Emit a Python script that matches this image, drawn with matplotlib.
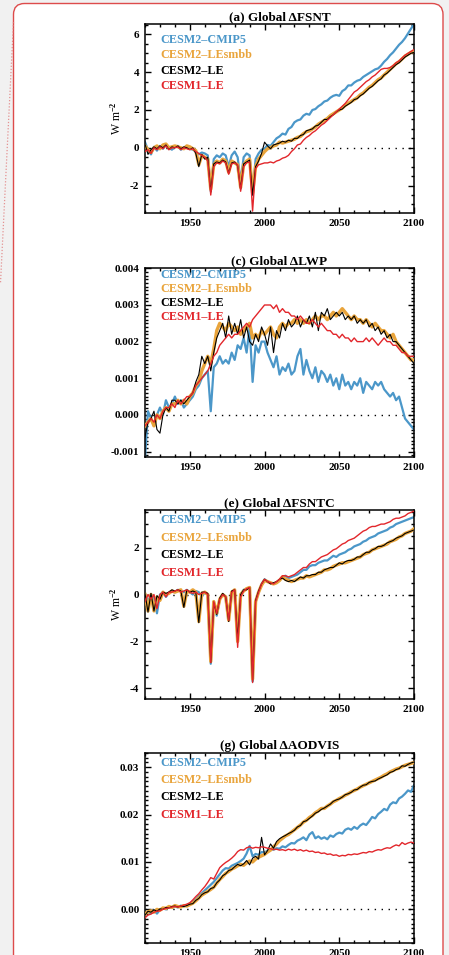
import numpy as np
import matplotlib
matplotlib.use("Agg")
import matplotlib.pyplot as plt
from matplotlib.patches import FancyBboxPatch
from matplotlib.lines import Line2D
from matplotlib.transforms import IdentityTransform
from matplotlib.ticker import MultipleLocator, FormatStrFormatter

plt.rcParams['font.family'] = ['Liberation Serif', 'DejaVu Serif']
plt.rcParams['font.weight'] = 'bold'
plt.rcParams['mathtext.fontset'] = 'custom'
plt.rcParams['mathtext.rm'] = 'Liberation Serif:bold'
plt.rcParams['mathtext.default'] = 'rm'

# annual-mean global anomalies, sampled every 2 years 1920-2100
years = np.arange(1920, 2101, 2)

models = ['CESM2\u2013CMIP5', 'CESM2\u2013LEsmbb', 'CESM2\u2013LE', 'CESM1\u2013LE']
colors = ['#4b97c9', '#e9a43b', '#000000', '#e2262b']

# (a) FSNT, W m-2
fsnt_cmip5 = [0.3, -0.1, -0.35, 0.05, -0.15, 0.1, -0.05, 0.15, 0.0, -0.1,
              0.05, 0.1, -0.1, 0.0, 0.1, -0.05, -0.1, -0.2, -0.35, -0.25,
              -0.3, -0.4, -2.3, -0.6, -0.4, -0.5, -0.3, -0.4, -1.0, -0.4,
              -0.2, -0.5, -1.8, -0.5, -0.3, -0.4, -2.5, -0.6, -0.3, -0.1,
              -0.05, 0.15, 0.1, 0.3, 0.5, 0.6, 0.75, 0.7, 1.0, 1.1,
              1.35, 1.45, 1.5, 1.7, 1.8, 1.75, 2.0, 2.05, 2.2, 2.3,
              2.45, 2.5, 2.65, 2.75, 2.8, 2.75, 3.0, 3.1, 3.3, 3.3,
              3.45, 3.55, 3.6, 3.75, 3.85, 3.95, 4.05, 4.15, 4.2, 4.35,
              4.55, 4.7, 4.9, 5.05, 5.25, 5.45, 5.6, 5.8, 6.05, 6.3,
              6.55]
fsnt_smbb = [0.1, -0.1, -0.25, 0.0, 0.1, -0.05, 0.15, 0.2, 0.0, 0.05,
             0.1, 0.05, 0.0, -0.05, 0.1, 0.05, -0.05, -0.15, -0.9, -0.4,
             -0.5, -0.6, -2.2, -0.9, -0.7, -0.8, -0.6, -0.7, -1.3, -0.7,
             -0.8, -0.9, -2.1, -0.9, -0.7, -0.6, -2.4, -1.0, -0.6, -0.4,
             -0.2, -0.05, 0.0, 0.1, 0.15, 0.3, 0.25, 0.3, 0.35, 0.4,
             0.45, 0.55, 0.6, 0.75, 0.85, 0.9, 1.0, 1.1, 1.25, 1.35,
             1.45, 1.55, 1.7, 1.8, 1.9, 2.0, 2.1, 2.25, 2.35, 2.45,
             2.55, 2.65, 2.8, 2.9, 3.05, 3.2, 3.3, 3.45, 3.6, 3.7,
             3.85, 4.0, 4.15, 4.3, 4.45, 4.55, 4.7, 4.85, 4.95, 5.05,
             5.1]
fsnt_le2 = [0.2, -0.35, -0.1, 0.05, -0.05, 0.1, 0.0, 0.15, -0.1, 0.05,
            0.0, 0.1, -0.05, 0.05, 0.0, -0.1, 0.0, -0.3, -1.0, -0.35,
            -0.6, -0.5, -2.35, -0.85, -0.75, -0.8, -0.65, -0.75, -1.35, -0.8,
            -0.75, -0.95, -2.2, -0.85, -0.75, -0.65, -2.5, -1.0, -0.7, -0.3,
            0.3, 0.1, -0.05, 0.15, 0.2, 0.25, 0.35, 0.3, 0.4, 0.35,
            0.5, 0.5, 0.65, 0.7, 0.9, 0.95, 1.0, 1.15, 1.2, 1.35,
            1.5, 1.5, 1.65, 1.75, 1.9, 2.0, 2.05, 2.2, 2.3, 2.4,
            2.55, 2.6, 2.75, 2.85, 3.0, 3.15, 3.25, 3.4, 3.55, 3.65,
            3.85, 3.95, 4.1, 4.25, 4.4, 4.5, 4.65, 4.8, 4.9, 5.0,
            5.05]
fsnt_le1 = [-0.2, -0.1, -0.3, 0.0, -0.1, 0.05, -0.05, 0.1, -0.1, 0.0,
            0.0, 0.05, -0.1, 0.0, -0.05, -0.1, -0.05, -0.2, -0.3, -0.4,
            -0.5, -0.7, -2.5, -1.0, -0.8, -0.85, -0.7, -0.8, -1.4, -0.85,
            -0.8, -0.9, -2.3, -1.0, -0.8, -0.75, -3.35, -1.1, -0.9, -0.85,
            -0.8, -0.8, -0.75, -0.8, -0.7, -0.65, -0.55, -0.5, -0.4, -0.2,
            -0.05, 0.15, 0.2, 0.4, 0.55, 0.65, 0.8, 0.9, 1.05, 1.2,
            1.3, 1.45, 1.6, 1.75, 1.9, 2.05, 2.2, 2.35, 2.55, 2.75,
            2.95, 3.05, 3.2, 3.35, 3.5, 3.6, 3.75, 3.85, 4.0, 4.15,
            4.2, 4.2, 4.25, 4.35, 4.5, 4.6, 4.75, 4.9, 5.0, 5.1,
            5.2]

# (c) LWP
lwp_cmip5 = [-0.0012, 0.0001, -0.0001, -0.0003, 0.0000, 0.0002, 0.0000, 0.0004, 0.0002, 0.0003,
             0.0005, 0.0003, 0.0004, 0.0002, 0.0003, 0.0004, 0.0005, 0.0007, 0.0008, 0.0010,
             0.0011, 0.0012, 0.0001, 0.0013, 0.0014, 0.0016, 0.0014, 0.0015, 0.0014, 0.0017,
             0.0015, 0.0019, 0.0018, 0.0021, 0.0017, 0.0024, 0.0009, 0.0019, 0.0017, 0.0020,
             0.0020, 0.0017, 0.0015, 0.0013, 0.0016, 0.0011, 0.0013, 0.0012, 0.0014, 0.0011,
             0.0012, 0.0016, 0.0018, 0.0011, 0.0015, 0.0012, 0.0010, 0.0013, 0.0009, 0.0012,
             0.0011, 0.0009, 0.0011, 0.0008, 0.0010, 0.0007, 0.0011, 0.0008, 0.0009, 0.0007,
             0.0009, 0.0008, 0.0010, 0.0006, 0.0009, 0.0008, 0.0007, 0.0009, 0.0008, 0.0009,
             0.0007, 0.0006, 0.0005, 0.0006, 0.0004, 0.0005, 0.0002, -0.0001, -0.0002, -0.0003,
             -0.0004]
lwp_smbb = [-0.0003, -0.0002, -0.0001, -0.0003, 0.0000, -0.0001, 0.0001, 0.0002, 0.0001, 0.0003,
            0.0003, 0.0004, 0.0003, 0.0004, 0.0003, 0.0005, 0.0006, 0.0008, 0.0009, 0.0012,
            0.0014, 0.0016, 0.0014, 0.0018, 0.0023, 0.0025, 0.0024, 0.0023, 0.0025, 0.0024,
            0.0023, 0.0024, 0.0022, 0.0023, 0.0024, 0.0025, 0.0021, 0.0022, 0.0021, 0.0023,
            0.0022, 0.0023, 0.0024, 0.0022, 0.0021, 0.0024, 0.0025, 0.0024, 0.0025, 0.0025,
            0.0026, 0.0025, 0.0026, 0.0025, 0.0026, 0.0025, 0.0026, 0.0027, 0.0026, 0.0027,
            0.0027, 0.0026, 0.0027, 0.0028, 0.0027, 0.0028, 0.0029, 0.0028, 0.0027, 0.0026,
            0.0027, 0.0026, 0.0026, 0.0025, 0.0026, 0.0025, 0.0024, 0.0025, 0.0024, 0.0023,
            0.0023, 0.0022, 0.0021, 0.0022, 0.0020, 0.0019, 0.0018, 0.0017, 0.0016, 0.0015,
            0.0015]
lwp_le2 = [-0.0006, -0.0002, -0.0001, 0.0001, -0.0004, -0.0005, 0.0000, 0.0002, 0.0001, 0.0004,
           0.0004, 0.0003, 0.0004, 0.0003, 0.0004, 0.0005, 0.0006, 0.0009, 0.0011, 0.0016,
           0.0014, 0.0016, 0.0012, 0.0017, 0.0021, 0.0023, 0.0025, 0.0021, 0.0027, 0.0022,
           0.0025, 0.0022, 0.0026, 0.0021, 0.0024, 0.0020, 0.0019, 0.0022, 0.0020, 0.0024,
           0.0022, 0.0019, 0.0024, 0.0017, 0.0023, 0.0021, 0.0025, 0.0023, 0.0026, 0.0024,
           0.0025, 0.0027, 0.0024, 0.0026, 0.0025, 0.0027, 0.0024, 0.0028, 0.0023, 0.0028,
           0.0027, 0.0029, 0.0026, 0.0027, 0.0028, 0.0027, 0.0028, 0.0026, 0.0027, 0.0026,
           0.0027, 0.0025, 0.0026, 0.0025, 0.0026, 0.0024, 0.0025, 0.0023, 0.0024, 0.0022,
           0.0023, 0.0021, 0.0022, 0.0020, 0.0020, 0.0019, 0.0018, 0.0017, 0.0016, 0.0015,
           0.0014]
lwp_le1 = [-0.0003, -0.0002, -0.0001, -0.0002, 0.0000, -0.0001, 0.0001, 0.0002, 0.0002, 0.0003,
           0.0002, 0.0004, 0.0003, 0.0004, 0.0005, 0.0005, 0.0006, 0.0008, 0.0009, 0.0010,
           0.0011, 0.0012, 0.0014, 0.0016, 0.0017, 0.0019, 0.0020, 0.0021, 0.0022, 0.0021,
           0.0022, 0.0022, 0.0023, 0.0024, 0.0025, 0.0024, 0.0026, 0.0027, 0.0028, 0.0029,
           0.0030, 0.0030, 0.0030, 0.0029, 0.0030, 0.0028, 0.0029, 0.0028, 0.0028, 0.0027,
           0.0027, 0.0026, 0.0027, 0.0026, 0.0025, 0.0025, 0.0026, 0.0025, 0.0024, 0.0025,
           0.0024, 0.0023, 0.0023, 0.0022, 0.0022, 0.0021, 0.0022, 0.0021, 0.0021, 0.0020,
           0.0021, 0.0020, 0.0020, 0.0020, 0.0021, 0.0020, 0.0021, 0.0020, 0.0019, 0.0020,
           0.0021, 0.0020, 0.0020, 0.0019, 0.0019, 0.0018, 0.0017, 0.0017, 0.0016, 0.0016,
           0.0016]

# (e) FSNTC, W m-2
fsntc_cmip5 = [0.05, -0.3, 0.0, -0.1, -0.8, 0.0, 0.1, -0.1, 0.1, 0.15,
               0.1, 0.2, 0.15, 0.1, 0.2, 0.1, 0.0, 0.15, 0.1, -0.1,
               0.1, 0.0, -2.95, -0.3, -0.9, -0.2, 0.0, -0.1, -1.0, 0.1,
               0.2, -2.0, 0.0, 0.2, 0.25, 0.3, -3.7, -0.3, 0.1, 0.45,
               0.65, 0.55, 0.5, 0.45, 0.5, 0.6, 0.75, 0.8, 0.7, 0.75,
               0.8, 0.85, 0.95, 1.05, 1.05, 1.2, 1.25, 1.25, 1.35, 1.4,
               1.45, 1.45, 1.55, 1.65, 1.6, 1.7, 1.75, 1.8, 1.9, 1.95,
               2.05, 2.1, 2.15, 2.25, 2.3, 2.4, 2.45, 2.5, 2.6, 2.65,
               2.7, 2.75, 2.85, 2.9, 3.0, 3.05, 3.1, 3.15, 3.2, 3.25,
               3.3]
fsntc_smbb = [0.0, -0.7, 0.0, -0.7, -0.1, -0.25, 0.1, 0.0, 0.05, 0.15,
              0.1, 0.15, 0.2, -0.5, 0.15, 0.1, 0.2, 0.1, -1.15, 0.05,
              0.1, 0.0, -2.85, -0.3, -0.8, -0.2, 0.0, -0.1, -1.1, 0.1,
              0.2, -2.0, 0.0, 0.15, 0.25, 0.3, -3.6, -0.3, 0.1, 0.4,
              0.6, 0.55, 0.5, 0.45, 0.5, 0.6, 0.75, 0.65, 0.6, 0.55,
              0.6, 0.65, 0.7, 0.7, 0.8, 0.75, 0.8, 0.85, 0.9, 0.95,
              1.05, 1.05, 1.1, 1.2, 1.25, 1.3, 1.35, 1.35, 1.4, 1.45,
              1.5, 1.55, 1.6, 1.7, 1.75, 1.8, 1.9, 1.95, 2.0, 2.05,
              2.1, 2.15, 2.25, 2.3, 2.35, 2.45, 2.5, 2.6, 2.65, 2.7,
              2.8]
fsntc_le2 = [0.05, -0.75, 0.05, -0.7, -0.05, -0.2, 0.1, 0.05, 0.1, 0.2,
             0.15, 0.2, 0.15, -0.55, 0.2, 0.1, 0.15, 0.1, -1.2, 0.1,
             0.1, 0.05, -2.9, -0.35, -0.85, -0.15, 0.05, -0.1, -1.15, 0.15,
             0.2, -1.95, 0.0, 0.2, 0.2, 0.3, -3.7, -0.25, 0.15, 0.45,
             0.65, 0.55, 0.45, 0.5, 0.55, 0.65, 0.7, 0.6, 0.55, 0.6,
             0.55, 0.65, 0.75, 0.7, 0.8, 0.8, 0.85, 0.85, 0.95, 0.95,
             1.05, 1.1, 1.15, 1.15, 1.25, 1.35, 1.3, 1.4, 1.45, 1.45,
             1.5, 1.6, 1.6, 1.7, 1.8, 1.8, 1.9, 1.95, 2.05, 2.05,
             2.1, 2.2, 2.25, 2.3, 2.4, 2.45, 2.5, 2.6, 2.65, 2.7,
             2.75]
fsntc_le1 = [-0.3, 0.0, -0.2, 0.0, -0.6, 0.0, 0.1, -0.1, 0.1, 0.1,
             0.15, 0.2, 0.1, 0.15, 0.2, 0.1, 0.05, 0.1, 0.0, 0.05,
             0.1, 0.0, -2.9, -0.3, -0.8, -0.2, 0.0, -0.1, -1.1, 0.1,
             0.2, -2.25, -0.1, 0.15, 0.25, 0.3, -3.75, -0.3, 0.1, 0.45,
             0.65, 0.55, 0.5, 0.45, 0.55, 0.65, 0.8, 0.8, 0.75, 0.8,
             0.85, 0.95, 1.05, 1.15, 1.15, 1.3, 1.4, 1.4, 1.5, 1.6,
             1.65, 1.7, 1.8, 1.9, 1.95, 2.05, 2.15, 2.2, 2.3, 2.35,
             2.4, 2.5, 2.6, 2.7, 2.75, 2.85, 2.9, 2.9, 2.95, 3.0,
             3.0, 3.05, 3.1, 3.2, 3.25, 3.25, 3.3, 3.35, 3.45, 3.5,
             3.55]

# (g) AODVIS
aod_cmip5 = [-0.0010, -0.0006, -0.0008, -0.0002, -0.0009, -0.0001, 0.0002, 0.0000, 0.0005, 0.0003,
             0.0006, 0.0004, 0.0008, 0.0006, 0.0009, 0.0012, 0.0016, 0.0021, 0.0028, 0.0034,
             0.0040, 0.0046, 0.0052, 0.0058, 0.0066, 0.0074, 0.0082, 0.0087, 0.0086, 0.0092,
             0.0095, 0.0098, 0.0102, 0.0107, 0.0118, 0.0134, 0.0112, 0.0117, 0.0115, 0.0121,
             0.0120, 0.0124, 0.0127, 0.0126, 0.0129, 0.0128, 0.0133, 0.0131, 0.0136, 0.0140,
             0.0139, 0.0145, 0.0148, 0.0152, 0.0146, 0.0158, 0.0163, 0.0150, 0.0154, 0.0149,
             0.0152, 0.0148, 0.0156, 0.0153, 0.0159, 0.0162, 0.0160, 0.0168, 0.0171, 0.0168,
             0.0174, 0.0170, 0.0177, 0.0181, 0.0178, 0.0186, 0.0195, 0.0192, 0.0201, 0.0206,
             0.0212, 0.0209, 0.0221, 0.0226, 0.0224, 0.0234, 0.0238, 0.0244, 0.0251, 0.0248,
             0.0262]
aod_smbb = [-0.0010, -0.0005, -0.0003, -0.0006, 0.0000, -0.0002, 0.0003, 0.0002, 0.0006, 0.0004,
            0.0008, 0.0006, 0.0005, 0.0008, 0.0007, 0.0010, 0.0013, 0.0018, 0.0024, 0.0030,
            0.0034, 0.0038, 0.0042, 0.0047, 0.0055, 0.0063, 0.0069, 0.0076, 0.0080, 0.0085,
            0.0088, 0.0092, 0.0095, 0.0093, 0.0098, 0.0102, 0.0100, 0.0106, 0.0110, 0.0113,
            0.0116, 0.0121, 0.0125, 0.0132, 0.0138, 0.0145, 0.0150, 0.0155, 0.0158, 0.0163,
            0.0168, 0.0173, 0.0178, 0.0184, 0.0188, 0.0194, 0.0198, 0.0204, 0.0208, 0.0213,
            0.0213, 0.0218, 0.0222, 0.0227, 0.0230, 0.0234, 0.0237, 0.0241, 0.0244, 0.0248,
            0.0251, 0.0254, 0.0258, 0.0261, 0.0264, 0.0267, 0.0270, 0.0273, 0.0276, 0.0279,
            0.0283, 0.0286, 0.0290, 0.0293, 0.0296, 0.0298, 0.0301, 0.0304, 0.0306, 0.0308,
            0.0310]
aod_le2 = [-0.0012, -0.0004, -0.0006, -0.0001, -0.0004, 0.0001, 0.0000, 0.0004, 0.0003, 0.0006,
           0.0007, 0.0005, 0.0007, 0.0006, 0.0008, 0.0011, 0.0012, 0.0019, 0.0023, 0.0031,
           0.0035, 0.0037, 0.0044, 0.0046, 0.0056, 0.0062, 0.0071, 0.0075, 0.0082, 0.0084,
           0.0090, 0.0095, 0.0092, 0.0096, 0.0103, 0.0094, 0.0108, 0.0112, 0.0106, 0.0152,
           0.0115, 0.0124, 0.0138, 0.0129, 0.0143, 0.0149, 0.0153, 0.0156, 0.0160, 0.0163,
           0.0167, 0.0174, 0.0177, 0.0185, 0.0187, 0.0192, 0.0197, 0.0203, 0.0206, 0.0211,
           0.0214, 0.0218, 0.0222, 0.0228, 0.0231, 0.0233, 0.0237, 0.0242, 0.0244, 0.0247,
           0.0252, 0.0253, 0.0258, 0.0262, 0.0263, 0.0268, 0.0270, 0.0271, 0.0275, 0.0278,
           0.0281, 0.0284, 0.0289, 0.0291, 0.0295, 0.0297, 0.0303, 0.0302, 0.0306, 0.0309,
           0.0311]
aod_le1 = [-0.0018, -0.0012, -0.0010, -0.0006, -0.0004, -0.0003, 0.0000, 0.0002, 0.0003, 0.0005,
           0.0006, 0.0005, 0.0007, 0.0009, 0.0011, 0.0014, 0.0020, 0.0027, 0.0033, 0.0041,
           0.0048, 0.0057, 0.0067, 0.0064, 0.0076, 0.0088, 0.0094, 0.0099, 0.0103, 0.0108,
           0.0114, 0.0122, 0.0126, 0.0125, 0.0130, 0.0132, 0.0129, 0.0131, 0.0130, 0.0132,
           0.0131, 0.0129, 0.0128, 0.0126, 0.0127, 0.0125, 0.0126, 0.0124, 0.0127, 0.0125,
           0.0127, 0.0124, 0.0126, 0.0123, 0.0125, 0.0122, 0.0123, 0.0120, 0.0121, 0.0118,
           0.0119, 0.0116, 0.0117, 0.0114, 0.0115, 0.0112, 0.0114, 0.0113, 0.0116, 0.0115,
           0.0117, 0.0116, 0.0118, 0.0120, 0.0119, 0.0122, 0.0121, 0.0124, 0.0126, 0.0125,
           0.0128, 0.0130, 0.0129, 0.0133, 0.0136, 0.0134, 0.0141, 0.0137, 0.0140, 0.0142,
           0.0140]

panels = [
    dict(title='(a) Global \u0394FSNT', series=[fsnt_cmip5, fsnt_smbb, fsnt_le2, fsnt_le1],
         ylim=(-3.45, 6.55), major=2, minor=0.5, fmt='%d', units=True,
         rect=(145, 24, 213), leg=(0.915, 0.081)),
    dict(title='(c) Global \u0394LWP', series=[lwp_cmip5, lwp_smbb, lwp_le2, lwp_le1],
         ylim=(-0.00115, 0.00401), major=0.001, minor=0.0001, fmt='%.3f', units=False,
         rect=(145, 268, 457), leg=(0.962, 0.074)),
    dict(title='(e) Global \u0394FSNTC', series=[fsntc_cmip5, fsntc_smbb, fsntc_le2, fsntc_le1],
         ylim=(-4.45, 3.6), major=2, minor=0.5, fmt='%d', units=True,
         rect=(145, 510, 699), leg=(0.947, 0.093)),
    dict(title='(g) Global \u0394AODVIS', series=[aod_cmip5, aod_smbb, aod_le2, aod_le1],
         ylim=(-0.0071, 0.033), major=0.01, minor=0.001, fmt='%.2f', units=False,
         rect=(145, 753, 943), leg=(0.946, 0.090)),
]

W, H = 449, 955
fig = plt.figure(figsize=(W / 100, H / 100), dpi=100)
fig.patch.set_facecolor('#f1f1f1')

# white card with red rounded border
card = FancyBboxPatch((13.5, -30), 429.5, H - 3.5 + 30,
                      boxstyle='round,pad=0,rounding_size=11',
                      transform=IdentityTransform(), facecolor='white',
                      edgecolor='#dd4b4b', linewidth=1.0, zorder=0)
fig.add_artist(card)
fig.add_artist(Line2D([13.5, 0.5], [H - 22, H - 283], transform=IdentityTransform(),
                      color='#e07a7a', linewidth=0.9, linestyle=(0, (1, 1.5)), alpha=0.8))

# draw order: thick orange underneath, then blue, black, red
order = [1, 0, 2, 3]
widths = [1.6, 2.4, 0.8, 1.0]

for p in panels:
    x0, top, bot = p['rect']
    ax = fig.add_axes([x0 / W, 1 - bot / H, 269 / W, (bot - top) / H])
    ax.set_facecolor('none')
    ax.axhline(0, color='black', linewidth=1.0, linestyle=(0, (1, 4)), zorder=1)
    for i in order:
        ax.plot(years, p['series'][i], color=colors[i], linewidth=widths[i], zorder=2 + i)
    ax.set_xlim(1920, 2100)
    ax.set_ylim(*p['ylim'])
    ax.xaxis.set_major_locator(MultipleLocator(50))
    ax.xaxis.set_minor_locator(MultipleLocator(10))
    ax.yaxis.set_major_locator(MultipleLocator(p['major']))
    ax.yaxis.set_minor_locator(MultipleLocator(p['minor']))
    ax.yaxis.set_major_formatter(FormatStrFormatter(p['fmt']))
    ax.set_xticks([1950, 2000, 2050, 2100])
    ax.tick_params(which='both', direction='in', top=True, right=True,
                   labelsize=8, width=1.0, pad=4)
    ax.tick_params(which='major', length=4)
    ax.tick_params(which='minor', length=2)
    for s in ax.spines.values():
        s.set_linewidth(1.1)
    ax.set_title(p['title'], fontsize=9.5, fontweight='bold', pad=3)
    if p['units']:
        ax.set_ylabel('W m$^{-2}$', fontsize=8.5, labelpad=5)
    ytop, dy = p['leg']
    for k, name in enumerate(models):
        ax.text(0.056, ytop - k * dy, name, transform=ax.transAxes, color=colors[k],
                fontsize=8.7, fontweight='bold', va='center', ha='left')

fig.savefig('out.png', dpi=100, facecolor=fig.get_facecolor())
